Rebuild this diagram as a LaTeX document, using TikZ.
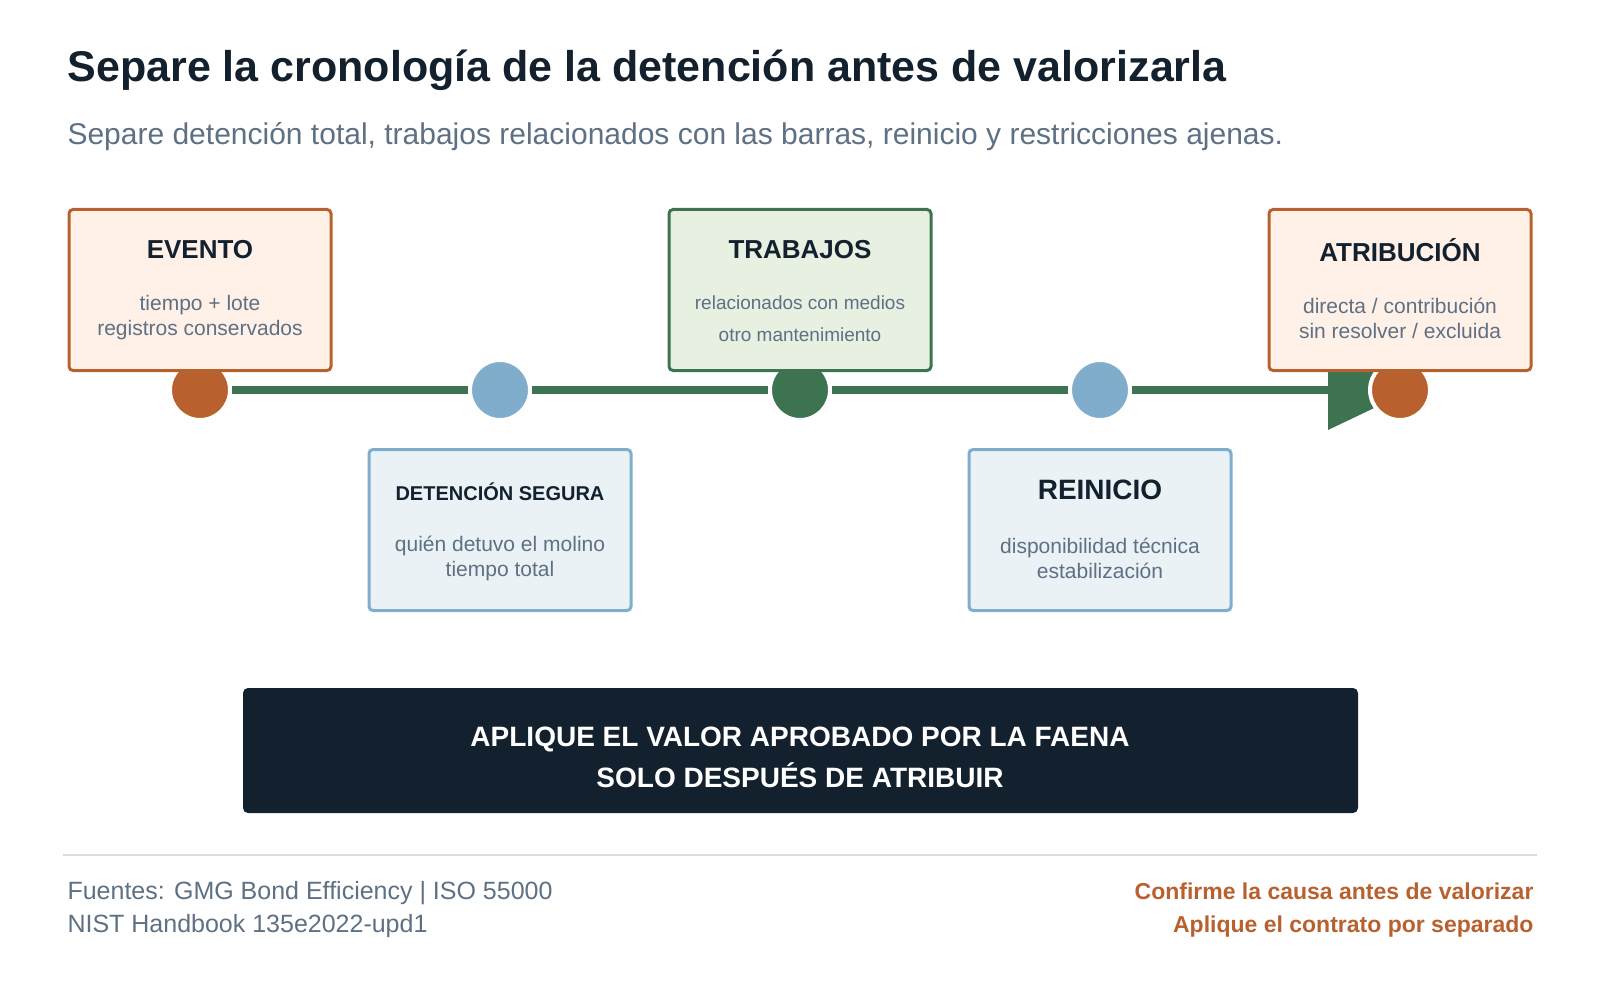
\documentclass[tikz,border=0pt]{standalone}
\usepackage{fontspec}
\setmainfont{Liberation Sans}
\definecolor{org}{HTML}{B8612F}\definecolor{orgl}{HTML}{FFF1E8}
\definecolor{grn}{HTML}{3D7350}\definecolor{grnl}{HTML}{E8F0E2}
\definecolor{blu}{HTML}{7FADCB}\definecolor{blul}{HTML}{EAF2F6}
\definecolor{dark}{HTML}{13212E}\definecolor{gry}{HTML}{5E7083}\definecolor{rule}{HTML}{D5DDE5}
\begin{document}
\begin{tikzpicture}[x=1pt,y=-1pt,
 box/.style={draw=#1,line width=3pt,rounded corners=4pt,minimum width=262pt,minimum height=161pt,inner sep=0pt},
 dot/.style={circle,fill=#1,draw=white,line width=4pt,minimum size=60pt,inner sep=0pt},
 bt/.style={font=\fontsize{26}{30}\selectfont\bfseries,text=dark},
 tx/.style={font=\fontsize{21}{25}\selectfont,text=gry,align=center}]
\useasboundingbox (0,0) rectangle (1600,1000);
\node[anchor=base west,font=\fontsize{43}{48}\selectfont\bfseries,text=dark] (title) at (64,82) {Separe la cronología de la detención antes de valorizarla};
\node[anchor=base west,font=\fontsize{30}{36}\selectfont,text=gry] (sub) at (64,145) {Separe detención total, trabajos relacionados con las barras, reinicio y restricciones ajenas.};
% line and arrow
\coordinate (ls) at (200,390); \coordinate (le) at (1328,390);
\draw[grn,line width=8pt] (ls) -- (le);
\fill[grn] (1328,350) -- (1412,390) -- (1328,430) -- cycle;
\node[dot=org] (c1) at (200,390) {};
\node[dot=blu] (c2) at (500,390) {};
\node[dot=grn] (c3) at (800,390) {};
\node[dot=blu] (c4) at (1100,390) {};
\node[dot=org] (c5) at (1400,390) {};
% top boxes
\node[box=org,fill=orgl] (b1) at (200,290) {};
\node[bt] at (200,250) {EVENTO};
\node[tx] at (200,318) {tiempo + lote\\registros conservados};
\node[box=grn,fill=grnl] (b3) at (800,290) {};
\node[bt] at (800,250) {TRABAJOS};
\node[tx,font=\fontsize{19}{32}\selectfont] at (800,319) {relacionados con medios\\otro mantenimiento};
\node[box=org,fill=orgl] (b5) at (1400,290) {};
\node[bt] at (1400,250) {ATRIBUCIÓN};
\node[tx] at (1400,318) {directa / contribución\\sin resolver / excluida};
% bottom boxes
\node[box=blu,fill=blul] (b2) at (500,530) {};
\node[bt,font=\fontsize{20}{24}\selectfont\bfseries] at (500,492) {DETENCIÓN SEGURA};
\node[tx] at (500,558) {quién detuvo el molino\\tiempo total};
\node[box=blu,fill=blul] (b4) at (1100,530) {};
\node[bt,font=\fontsize{28}{32}\selectfont\bfseries] at (1100,490) {REINICIO};
\node[tx] at (1100,558) {disponibilidad técnica\\estabilización};
% banner
\node[fill=dark,rounded corners=5pt,minimum width=1115pt,minimum height=125pt,inner sep=0pt] (ban) at (800.5,750.5) {};
\node[text=white,font=\fontsize{28}{41}\selectfont\bfseries,align=center] at (800,757) {APLIQUE EL VALOR APROBADO POR LA FAENA\\SOLO DESPUÉS DE ATRIBUIR};
% footer
\coordinate (fl) at (63,855); \coordinate (fr) at (1537,855);
\draw[rule,line width=2.5pt] (fl) -- (fr);
\node[anchor=base west,font=\fontsize{25}{33}\selectfont,text=gry,align=left] (f1) at (64,899) {Fuentes: GMG Bond Efficiency | ISO 55000};
\node[anchor=base west,font=\fontsize{25}{33}\selectfont,text=gry] (f2) at (64,932) {NIST Handbook 135e2022-upd1};
\node[anchor=base east,font=\fontsize{23}{33}\selectfont\bfseries,text=org] (f3) at (1537,899) {Confirme la causa antes de valorizar};
\node[anchor=base east,font=\fontsize{23}{33}\selectfont\bfseries,text=org] (f4) at (1537,932) {Aplique el contrato por separado};
\end{tikzpicture}
\end{document}
